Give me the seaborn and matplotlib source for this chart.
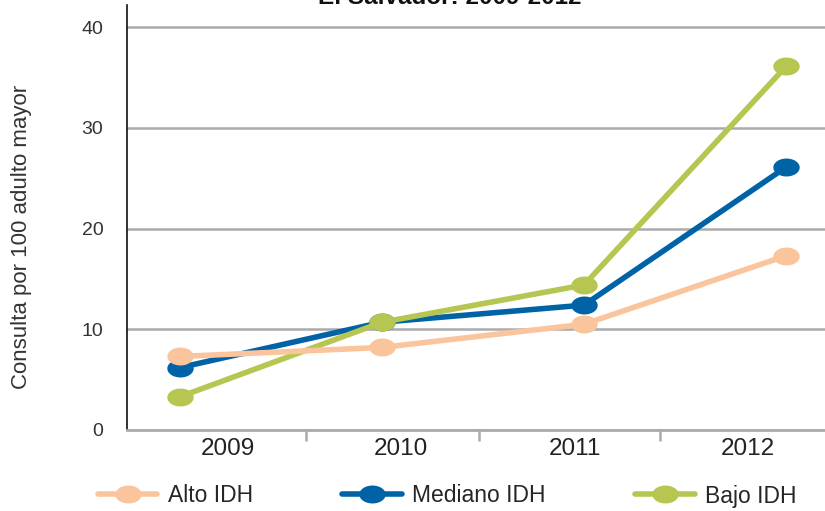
import numpy as np
import pandas as pd
import seaborn as sns
import matplotlib.pyplot as plt
from matplotlib.path import Path
from matplotlib.lines import Line2D
from matplotlib import font_manager

years = ["2009", "2010", "2011", "2012"]
alto = [7.3, 8.2, 10.5, 17.3]
mediano = [6.2, 10.7, 12.4, 26.1]
bajo = [3.3, 10.7, 14.4, 36.1]
series_names = ["Alto IDH", "Mediano IDH", "Bajo IDH"]
colors = {"Alto IDH": "#FAC59D", "Mediano IDH": "#0063A6", "Bajo IDH": "#B6C650"}

sns.set_theme(style="white")

names = {f.name for f in font_manager.fontManager.ttflist}
narrow = "Liberation Sans Narrow" if "Liberation Sans Narrow" in names else "Liberation Sans"
plt.rcParams["font.family"] = ["Liberation Sans", "DejaVu Sans"]

df = pd.DataFrame({
    "idx": np.tile(np.arange(len(years)), 3),
    "valor": alto + mediano + bajo,
    "serie": np.repeat(series_names, len(years)),
})

# flattened ellipse used as the point marker
t = np.linspace(0, 2 * np.pi, 60)
ellipse = Path(np.column_stack([np.cos(t), 0.68 * np.sin(t)]), closed=True)

fig = plt.figure(figsize=(8.25, 5.11), dpi=100)
ax = fig.add_axes([127 / 825, 1 - 430 / 511, 1 - 127 / 825, (430 - 5) / 511])

order = [("Mediano IDH", 2), ("Bajo IDH", 3), ("Alto IDH", 4)]
for name, z in order:
    sub = df[df["serie"] == name]
    sns.lineplot(data=sub, x="idx", y="valor", ax=ax, color=colors[name],
                 linewidth=4.0, marker=ellipse, markersize=19,
                 markeredgewidth=0, zorder=z, legend=False)

ax.set_xlim(-(180 - 127) / 202, 3 + (825 - 786) / 202)
ax.set_ylim(0, 42.2)
ax.set_yticks([0, 10, 20, 30, 40])
ax.set_yticklabels(["0", "10", "20", "30", "40"], fontfamily=narrow, fontsize=14, color="#333333")
ax.tick_params(axis="y", length=0, pad=17)
ax.set_xticks([])
ax.set_xlabel("")
ax.set_ylabel("Consulta por 100 adulto mayor", fontsize=16, color="#333333")
ax.yaxis.set_label_coords(-0.136, 0.454)
ax.yaxis.grid(True, color="#ABABAE", linewidth=1.8)
ax.set_axisbelow(True)
for s in ["top", "right"]:
    ax.spines[s].set_visible(False)
ax.spines["left"].set_color("#111111")
ax.spines["left"].set_linewidth(1.2)
ax.spines["bottom"].set_color("#ABABAE")
ax.spines["bottom"].set_linewidth(2)

# category axis for the year labels and separators
cat = ax.twiny()
sc = (748 - 228) / 3
cat.set_xlim(-(228 - 127) / sc, 3 + (825 - 748) / sc)
cat.xaxis.set_ticks_position("bottom")
cat.xaxis.set_label_position("bottom")
cat.set_xticks(range(len(years)))
cat.set_xticklabels(years, fontfamily=narrow, fontsize=17.5, color="#222222")
cat.set_xticks([0.45, 1.45, 2.49], minor=True)
cat.tick_params(axis="x", which="major", length=0, pad=6)
cat.tick_params(axis="x", which="minor", length=8, width=1.8, color="#ABABAE", direction="out")
for s in cat.spines.values():
    s.set_visible(False)

fig.text(0.545, 1 - 4 / 511, "El Salvador: 2009-2012", ha="center", va="baseline",
         fontsize=17.5, fontweight="bold", color="#111111")

handles = [Line2D([], [], color=colors[n], linewidth=4.0, marker=ellipse,
                  markersize=19, markeredgewidth=0) for n in series_names]
fig.legend(handles, series_names, loc="center", bbox_to_anchor=(0.542, 1 - 496 / 511),
           ncol=3, frameon=False, handlelength=2.6, columnspacing=3.9,
           handletextpad=0.45, prop={"family": narrow, "size": 16.5})

fig.savefig("out.png", dpi=100)
